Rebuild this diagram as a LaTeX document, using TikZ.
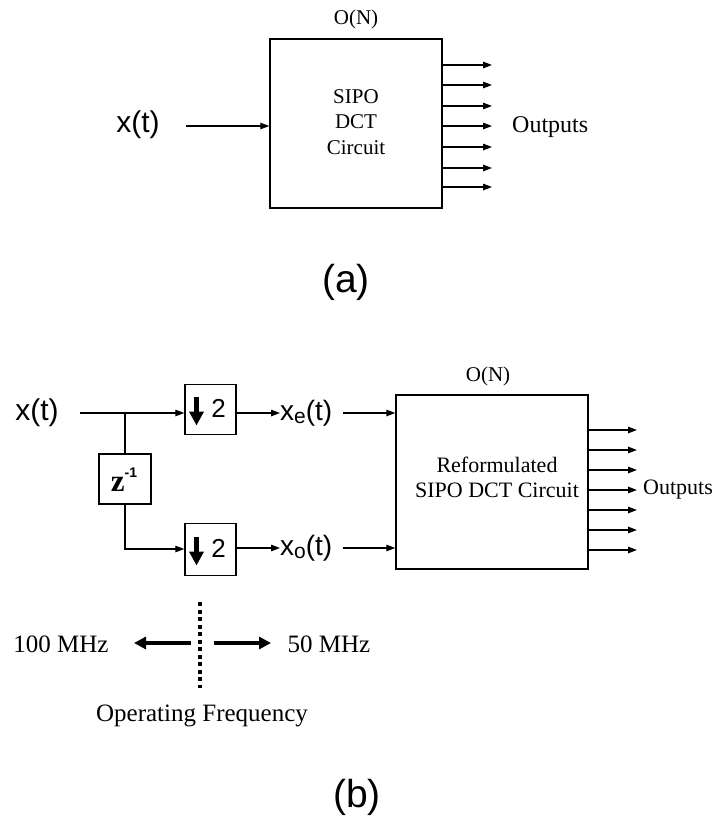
\documentclass[tikz,border=0pt]{standalone}
\usepackage{fontspec}
\setmainfont{Liberation Serif}
\newfontfamily\arialf{Liberation Sans}
\usetikzlibrary{arrows.meta,calc}
\begin{document}
\begin{tikzpicture}[x=1pt,y=-1pt,
  box/.style={draw, line width=1.4pt, inner sep=0pt},
  wire/.style={line width=1.3pt},
  arr/.style={-{Triangle[length=9pt,width=6.5pt]}, line width=1.3pt},
  fatarr/.style={-{Triangle[length=12pt,width=12pt]}, line width=3.5pt},
  downarr/.style={-{Triangle[length=14pt,width=14pt]}, line width=4.5pt},
  lbl/.style={font=\fontsize{21}{25.5}\selectfont, inner sep=0pt},
  lblb/.style={font=\fontsize{22}{25}\selectfont, inner sep=0pt},
  freq/.style={font=\fontsize{25}{28}\selectfont, inner sep=0pt},
  sig/.style={font=\arialf\fontsize{30}{33}\selectfont, inner sep=0pt},
  sigb/.style={font=\arialf\fontsize{28}{31}\selectfont, inner sep=0pt},
  figcap/.style={font=\arialf\fontsize{39}{42}\selectfont, inner sep=0pt},
  two/.style={font=\arialf\fontsize{26}{26}\selectfont, inner sep=0pt},
]
\useasboundingbox (0,0) rectangle (716,816);

% ---------------- (a) ----------------
\node[box, minimum width=172pt, minimum height=169pt] (A) at (356,123.5) {};
\node[lbl, align=center] (Atext) at (356,122) {SIPO\\DCT\\Circuit};
\node[lbl] (AON) at (356,19) {O(N)};
\node[sig] (Ax) at (138,125) {x(t)};
\coordinate (Ain) at (186,126);
\draw[arr] (Ain) -- (A.west |- Ain);
\foreach \i/\y in {1/65,2/85,3/106,4/126,5/147,6/168,7/187}{
  \coordinate (ao\i) at (492,\y);
  \draw[arr] (A.east |- ao\i) -- (ao\i);
}
\node[font=\fontsize{24}{26}\selectfont, inner sep=0pt, anchor=west] (Aout) at (512,127) {Outputs};
\node[figcap] (La) at (346,282) {(a)};

% ---------------- (b) ----------------
\node[sig] (Bx) at (37,413) {x(t)};
\coordinate (Bin) at (80,413);
\coordinate (J) at (125,413);
\node[box, minimum width=51pt, minimum height=50pt] (D1) at (210.5,409.5) {};
\node[box, minimum width=52pt, minimum height=50pt] (Z) at (125,479) {};
\node[box, minimum width=51pt, minimum height=52pt] (D2) at (210.5,549.5) {};

\node[inner sep=0pt] (Zt) at (124,480) {\fontsize{31}{31}\selectfont\bfseries z\raisebox{14pt}{\arialf\fontsize{14}{14}\selectfont\bfseries -1}};

\foreach \d in {D1,D2}{
  \draw[downarr] ($(\d.center)+(-14,-13)$) -- ($(\d.center)+(-14,16)$);
  \node[two] at ($(\d.center)+(8,-1)$) {2};
}

\draw[wire] (Bin) -- (J);
\draw[arr] (J) -- (D1.west |- J);
\draw[wire] (J) -- (Z.north);
\draw[arr] (Z.south) |- (D2.west |- 0,549);

\node[sigb, anchor=west] (Xe) at (280,413) {x\raisebox{-3pt}{\fontsize{21}{21}\selectfont e}(t)};
\node[sigb, anchor=west] (Xo) at (280,548) {x\raisebox{-3pt}{\fontsize{21}{21}\selectfont o}(t)};
\draw[arr] (D1.east |- Xe) -- (Xe.west);
\draw[arr] (D2.east |- Xo) -- (Xo.west);

\node[box, minimum width=192pt, minimum height=174pt] (B) at (492,482) {};
\node[lbl] (BON) at (488,376) {O(N)};
\node[lblb, align=center] (Btext) at (497,477) {Reformulated\\SIPO DCT Circuit};
\draw[arr] ([xshift=10pt]Xe.east) -- (B.west |- Xe);
\draw[arr] ([xshift=10pt]Xo.east) -- (B.west |- Xo);
\foreach \i/\y in {1/430,2/450,3/470,4/490,5/510,6/530,7/550}{
  \coordinate (bo\i) at (637,\y);
  \draw[arr] (B.east |- bo\i) -- (bo\i);
}
\node[lblb, anchor=west] (Bout) at (643,490) {Outputs};

% frequency divider
\coordinate (dtop) at (200,602);
\coordinate (dbot) at (200,688);
\draw[line width=3.5pt, dash pattern=on 4pt off 3.5pt] (dtop) -- (dbot);
\node[freq] (F100) at (61,644) {100 MHz};
\node[freq] (F50) at (329,644) {50 MHz};
\coordinate (l1) at (191,643);
\coordinate (l2) at (134,643);
\coordinate (r1) at (214,643);
\coordinate (r2) at (271,643);
\draw[fatarr] (l1) -- (l2);
\draw[fatarr] (r1) -- (r2);
\node[freq] (OF) at (202,716) {Operating Frequency};
\node[figcap] (Lb) at (357,797) {(b)};
\end{tikzpicture}
\end{document}
